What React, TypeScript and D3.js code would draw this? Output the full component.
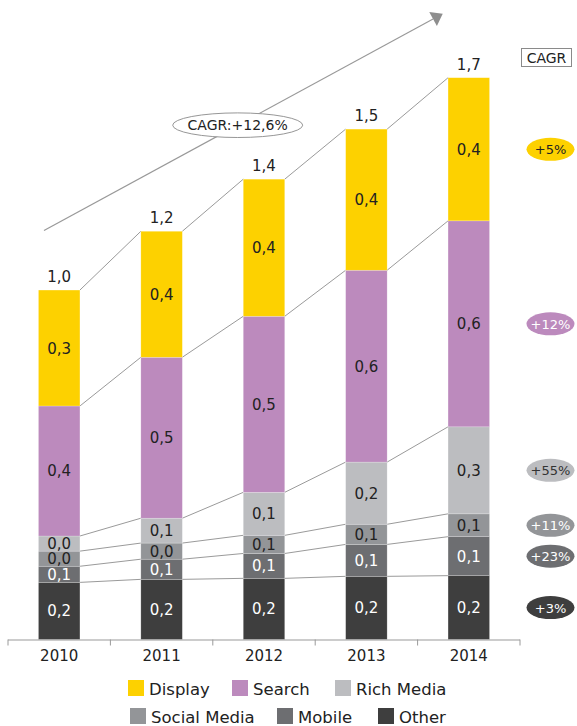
import React from 'react';
import * as d3 from 'd3';

const years = ['2010', '2011', '2012', '2013', '2014'];

// stack order, bottom to top
const seriesKeys = ['Other', 'Mobile', 'Social Media', 'Rich Media', 'Search', 'Display'];

const other = [0.170, 0.179, 0.182, 0.188, 0.190];
const mobile = [0.048, 0.060, 0.074, 0.095, 0.116];
const social = [0.045, 0.048, 0.054, 0.060, 0.068];
const rich = [0.045, 0.074, 0.128, 0.185, 0.259];
const search = [0.387, 0.479, 0.524, 0.571, 0.613];
const display = [0.345, 0.375, 0.408, 0.420, 0.426];

const otherLabels = ['0,2', '0,2', '0,2', '0,2', '0,2'];
const mobileLabels = ['0,1', '0,1', '0,1', '0,1', '0,1'];
const socialLabels = ['0,0', '0,0', '0,1', '0,1', '0,1'];
const richLabels = ['0,0', '0,1', '0,1', '0,2', '0,3'];
const searchLabels = ['0,4', '0,5', '0,5', '0,6', '0,6'];
const displayLabels = ['0,3', '0,4', '0,4', '0,4', '0,4'];
const totalLabels = ['1,0', '1,2', '1,4', '1,5', '1,7'];

const cagrLabels = ['+3%', '+23%', '+11%', '+55%', '+12%', '+5%'];
const totalCagr = 'CAGR:+12,6%';

const legendRows = [
  ['Display', 'Search', 'Rich Media'],
  ['Social Media', 'Mobile', 'Other'],
];

const colors: Record<string, string> = {
  Display: '#FDD100',
  Search: '#BC8ABD',
  'Rich Media': '#BCBDC0',
  'Social Media': '#939598',
  Mobile: '#6D6E71',
  Other: '#3E3E3E',
};
const textColors: Record<string, string> = {
  Display: '#222',
  Search: '#222',
  'Rich Media': '#222',
  'Social Media': '#222',
  Mobile: '#ffffff',
  Other: '#ffffff',
};
const badgeText: Record<string, string> = {
  Display: '#222',
  Search: '#ffffff',
  'Rich Media': '#333333',
  'Social Media': '#ffffff',
  Mobile: '#ffffff',
  Other: '#ffffff',
};

const W = 577;
const H = 726;
const FONT = '"DejaVu Sans", Verdana, sans-serif';

export default function App() {
  const valuesByKey: Record<string, number[]> = {
    Other: other,
    Mobile: mobile,
    'Social Media': social,
    'Rich Media': rich,
    Search: search,
    Display: display,
  };
  const labelsByKey: Record<string, string[]> = {
    Other: otherLabels,
    Mobile: mobileLabels,
    'Social Media': socialLabels,
    'Rich Media': richLabels,
    Search: searchLabels,
    Display: displayLabels,
  };

  const table = years.map((yr, i) => {
    const row: any = { year: yr };
    seriesKeys.forEach(k => (row[k] = valuesByKey[k][i]));
    return row;
  });
  const stacked = d3.stack<any>().keys(seriesKeys)(table);

  const x = d3.scaleBand<string>()
    .domain(years)
    .range([8, 520])
    .paddingInner(0.595)
    .paddingOuter(0.2975);
  const y = d3.scaleLinear().domain([0, 1.9]).range([639.5, 1.1]);

  const bw = x.bandwidth();
  const step = x.step();
  const tickXs = d3.range(years.length + 1).map(i => x.range()[0] + i * step);
  const totals = years.map((_, i) => d3.sum(seriesKeys, k => valuesByKey[k][i]));

  // trend arrow
  const a0 = [x.range()[0] + 36, y(1.217)];
  const a1 = [x('2014')! - 15, y(1.847)];
  const ang = Math.atan2(a1[1] - a0[1], a1[0] - a0[0]);
  const headLen = 11;
  const headW = 8;
  const tip = [a1[0] + Math.cos(ang) * headLen, a1[1] + Math.sin(ang) * headLen];
  const px = -Math.sin(ang) * headW;
  const py = Math.cos(ang) * headW;
  const head = [
    [tip[0], tip[1]],
    [a1[0] + px, a1[1] + py],
    [a1[0] - px, a1[1] - py],
  ];
  const ellX = 237.7;
  const ellY = a0[1] + (ellX - a0[0]) * Math.tan(ang);

  const badgeX = 550.5;
  const last = years.length - 1;

  return (
    <svg
      width={W}
      height={H}
      style={{ position: 'absolute', left: 0, top: 0, background: '#fff' }}
      fontFamily={FONT}
    >
      {/* trend arrow + total CAGR */}
      <line x1={a0[0]} y1={a0[1]} x2={a1[0]} y2={a1[1]} stroke="#999" strokeWidth={1.2} />
      <polygon points={head.map(p => p.join(',')).join(' ')} fill="#8e8e8e" />
      <ellipse cx={ellX} cy={ellY} rx={65} ry={12.3} fill="#fff" stroke="#8a8a8a" strokeWidth={0.9} />
      <text x={ellX} y={ellY + 5} textAnchor="middle" fontSize={14} fill="#222">{totalCagr}</text>

      {/* connecting lines between bars */}
      {stacked.map(s =>
        s.slice(0, -1).map((d, i) => (
          <line
            key={`c-${s.key}-${i}`}
            x1={x(years[i])! + bw}
            y1={y(d[1])}
            x2={x(years[i + 1])!}
            y2={y(s[i + 1][1])}
            stroke="#9a9a9a"
            strokeWidth={1}
          />
        ))
      )}

      {/* bars */}
      {stacked.map(s => (
        <g key={s.key}>
          {s.map((d, i) => (
            <rect
              key={i}
              x={x(years[i])}
              y={y(d[1])}
              width={bw}
              height={y(d[0]) - y(d[1])}
              fill={colors[s.key]}
              stroke="#ffffff"
              strokeOpacity={0.35}
              strokeWidth={0.6}
            />
          ))}
          {s.map((d, i) => (
            <text
              key={`t${i}`}
              x={x(years[i])! + bw / 2}
              y={(y(d[0]) + y(d[1])) / 2 + 5.5}
              textAnchor="middle"
              fontSize={15}
              fill={textColors[s.key]}
            >
              {labelsByKey[s.key][i]}
            </text>
          ))}
        </g>
      ))}

      {/* totals */}
      {years.map((yr, i) => (
        <text key={yr} x={x(yr)! + bw / 2} y={y(totals[i]) - 8} textAnchor="middle" fontSize={15} fill="#222">
          {totalLabels[i]}
        </text>
      ))}

      {/* x axis */}
      <line x1={x.range()[0]} x2={x.range()[1]} y1={y(0) + 0.5} y2={y(0) + 0.5} stroke="#9a9a9a" strokeWidth={1.2} />
      {tickXs.map((tx, i) => (
        <line key={i} x1={tx} x2={tx} y1={y(0)} y2={y(0) + 6} stroke="#9a9a9a" strokeWidth={1} />
      ))}
      {years.map(yr => (
        <text key={yr} x={x(yr)! + bw / 2} y={661} textAnchor="middle" fontSize={15} fill="#222">
          {yr}
        </text>
      ))}

      {/* CAGR header */}
      <rect x={521.5} y={48.5} width={50} height={18} fill="#fff" stroke="#8a8a8a" strokeWidth={1} />
      <text x={546.5} y={62.5} textAnchor="middle" fontSize={14} fill="#222">CAGR</text>

      {/* CAGR badges at the 2014 segment midpoints */}
      {stacked.map((s, j) => {
        const d = s[last];
        const cy = (y(d[0]) + y(d[1])) / 2;
        return (
          <g key={`b-${s.key}`}>
            <ellipse cx={badgeX} cy={cy} rx={24} ry={11.5} fill={colors[s.key]} />
            <text x={badgeX} y={cy + 5} textAnchor="middle" fontSize={13} fill={badgeText[s.key]}>
              {cagrLabels[j]}
            </text>
          </g>
        );
      })}

      {/* legend */}
      {legendRows.map((row, r) => {
        const starts = r === 0 ? [128, 232, 335] : [130, 277, 378];
        const cy = r === 0 ? 688 : 716;
        return row.map((name, k) => (
          <g key={name}>
            <rect x={starts[k]} y={cy - 8} width={16} height={16} fill={colors[name]} />
            <text x={starts[k] + 21} y={cy + 6.5} fontSize={16.5} fill="#222">
              {name}
            </text>
          </g>
        ));
      })}
    </svg>
  );
}
